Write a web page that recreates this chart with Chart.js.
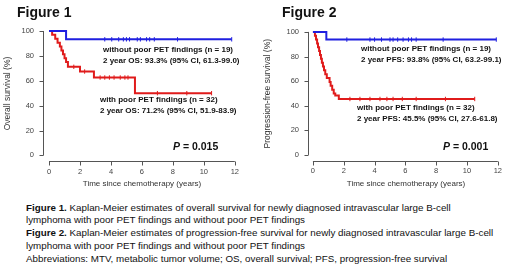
<!DOCTYPE html>
<html>
<head>
<meta charset="utf-8">
<script src="https://cdn.jsdelivr.net/npm/chart.js@4.4.1/dist/chart.umd.min.js"></script>
<style>
  body { margin: 0; width: 520px; height: 269px; background: #fff; position: relative; overflow: hidden;
         font-family: Arial, "Liberation Sans", sans-serif; color: #111; }
  .box { position: absolute; top: 0; width: 260px; height: 200px; }
  .t { position: absolute; white-space: nowrap; }
  .fig { font-weight: bold; font-size: 14px; line-height: 16px; }
  .ann { font-weight: bold; font-size: 8px; line-height: 11px; }
  .p { font-weight: bold; font-size: 10.5px; line-height: 12px; }
  #cap { position: absolute; left: 26px; top: 201.5px; font-size: 9.8px; line-height: 12.8px; white-space: nowrap; }
</style>
</head>
<body>
<div class="box" style="left:0"><canvas id="fig1" width="260" height="200"></canvas></div>
<div class="box" style="left:260px"><canvas id="fig2" width="260" height="200"></canvas></div>

<div class="t fig" style="left:17px;top:4px">Figure 1</div>
<div class="t ann" style="left:103px;top:44px">without poor PET findings (n = 19)<br>2 year OS: 93.3% (95% CI, 61.3-99.0)</div>
<div class="t ann" style="left:100px;top:94px">with poor PET findings (n = 32)<br>2 year OS: 71.2% (95% CI, 51.9-83.9)</div>
<div class="t p" style="left:173px;top:140px"><i>P</i> = 0.015</div>

<div class="t fig" style="left:282px;top:4px">Figure 2</div>
<div class="t ann" style="left:361px;top:43px">without poor PET findings (n = 19)<br>2 year PFS: 93.8% (95% CI, 63.2-99.1)</div>
<div class="t ann" style="left:357px;top:102px">with poor PET findings (n = 32)<br>2 year PFS: 45.5% (95% CI, 27.6-61.8)</div>
<div class="t p" style="left:443px;top:140px"><i>P</i> = 0.001</div>

<div id="cap"><b>Figure 1.</b> Kaplan-Meier estimates of overall survival for newly diagnosed intravascular large B-cell<br>lymphoma with poor PET findings and without poor PET findings<br><b>Figure 2.</b> Kaplan-Meier estimates of progression-free survival for newly diagnosed intravascular large B-cell<br>lymphoma with poor PET findings and without poor PET findings<br>Abbreviations: MTV, metabolic tumor volume; OS, overall survival; PFS, progression-free survival</div>

<script>
// tick labels
const xTicks = [0, 2, 4, 6, 8, 10, 12];
const yTicks = [0, 20, 40, 60, 80, 100];

// Figure 1: overall survival (step times in years, survival %)
const osPoorTimes = [0, 0.2, 0.4, 0.55, 0.7, 0.8, 0.9, 1.0, 1.1, 1.22, 2.0, 2.9, 5.55, 10.5];
const osPoorSurv  = [100, 96.9, 93.8, 90.6, 87.5, 84.4, 81.3, 78.1, 75.0, 71.2, 67.4, 62.6, 50.0, 50.0];
const osPoorCens  = [1.6, 2.3, 3.3, 3.6, 3.9, 4.2, 4.6, 4.9, 5.1, 7.0, 8.9, 10.5];
const osGoodTimes = [0, 1.1, 11.8];
const osGoodSurv  = [100, 93.3, 93.3];
const osGoodCens  = [3.6, 4.05, 4.5, 4.8, 5.0, 5.2, 5.7, 5.9, 6.3, 6.5, 6.8, 8.3, 11.8];

// Figure 2: progression-free survival
const pfsPoorTimes = [0, 0.13, 0.2, 0.27, 0.33, 0.4, 0.46, 0.52, 0.58, 0.65, 0.72, 0.8, 0.9, 1.08, 1.15, 1.25, 1.35, 1.45, 1.68, 10.5];
const pfsPoorSurv  = [100, 96.9, 93.8, 90.6, 87.5, 84.4, 81.3, 78.1, 75.0, 71.9, 68.8, 65.6, 62.5, 59.4, 56.3, 53.1, 50.0, 48.3, 45.5, 45.5];
const pfsPoorCens  = [2.4, 3.05, 3.7, 4.35, 4.8, 5.2, 5.8, 6.7, 8.6, 10.5];
const pfsGoodTimes = [0, 0.87, 11.9];
const pfsGoodSurv  = [100, 93.8, 93.8];
const pfsGoodCens  = [2.2, 3.7, 4.0, 4.45, 5.0, 5.2, 5.5, 5.85, 6.2, 6.4, 6.7, 8.45, 11.9];

const BLUE = '#1f1fe0';
const RED = '#e01b1b';

function kmAt(times, surv, t) {
    let s = surv[0];
    times.forEach((tt, i) => { if (tt <= t) s = surv[i]; });
    return s;
}

function curve(times, surv, color) {
    return {
        data: times.map((t, i) => ({ x: t, y: surv[i] })),
        showLine: true, stepped: 'before',
        borderColor: color, borderWidth: 2, pointRadius: 0
    };
}

// censor ticks: short vertical marks on the curve
function marks(cens, times, surv, color) {
    return {
        data: cens.map(t => ({ x: t, y: kmAt(times, surv, t) })),
        showLine: false, pointStyle: 'line', rotation: 90, pointRadius: 2.2,
        borderColor: color, borderWidth: 1
    };
}

// R style axes: line from first to last tick, ticks pointing out
const rAxes = {
    id: 'rAxes',
    afterDraw(chart) {
        const { ctx, chartArea, scales: { x, y } } = chart;
        ctx.save();
        ctx.strokeStyle = '#555';
        ctx.lineWidth = 1;
        ctx.beginPath();
        const yb = Math.round(chartArea.bottom) + 0.5;
        ctx.moveTo(x.getPixelForValue(xTicks[0]), yb);
        ctx.lineTo(x.getPixelForValue(xTicks[xTicks.length - 1]), yb);
        xTicks.forEach(v => {
            const px = Math.round(x.getPixelForValue(v)) + 0.5;
            ctx.moveTo(px, yb); ctx.lineTo(px, yb + 4);
        });
        const xl = Math.round(chartArea.left) + 0.5;
        ctx.moveTo(xl, y.getPixelForValue(yTicks[0]));
        ctx.lineTo(xl, y.getPixelForValue(yTicks[yTicks.length - 1]));
        yTicks.forEach(v => {
            const py = Math.round(y.getPixelForValue(v)) + 0.5;
            ctx.moveTo(xl, py); ctx.lineTo(xl - 4, py);
        });
        ctx.stroke();
        ctx.restore();
    }
};

function makeChart(id, datasets, yTitle, xMin, yAxisWidth, pad) {
    new Chart(document.getElementById(id), {
        type: 'scatter',
        data: { datasets },
        plugins: [rAxes],
        options: {
            responsive: false,
            animation: false,
            events: [],
            layout: { padding: pad },
            plugins: { legend: { display: false }, tooltip: { enabled: false } },
            scales: {
                x: {
                    type: 'linear', min: xMin, max: 12.4,
                    afterBuildTicks: s => { s.ticks = xTicks.map(v => ({ value: v })); },
                    afterFit: s => { s.height = 30; },
                    grid: { display: false, drawTicks: false },
                    border: { display: false },
                    ticks: { padding: 6, color: '#444', font: { size: 7.5, family: 'Arial, "Liberation Sans"' } },
                    title: { display: true, text: 'Time since chemotherapy (years)', color: '#333',
                             padding: { top: 0, bottom: 2 }, font: { size: 8, family: 'Arial, "Liberation Sans"' } }
                },
                y: {
                    min: -4.5, max: 104,
                    afterBuildTicks: s => { s.ticks = yTicks.map(v => ({ value: v })); },
                    afterFit: s => { s.width = yAxisWidth; },
                    grid: { display: false, drawTicks: false },
                    border: { display: false },
                    ticks: { padding: 9, color: '#444', font: { size: 7.5, family: 'Arial, "Liberation Sans"' } },
                    title: { display: true, text: yTitle, color: '#333',
                             padding: { top: 3, bottom: 0 }, font: { size: 8.5, family: 'Arial, "Liberation Sans"' } }
                }
            }
        }
    });
}

makeChart('fig1', [
    curve(osGoodTimes, osGoodSurv, BLUE),
    curve(osPoorTimes, osPoorSurv, RED),
    marks(osGoodCens, osGoodTimes, osGoodSurv, BLUE),
    marks(osPoorCens, osPoorTimes, osPoorSurv, RED)
], 'Overall survival (%)', -0.39, 43, { left: 0, right: 19, top: 26, bottom: 9 });

makeChart('fig2', [
    curve(pfsGoodTimes, pfsGoodSurv, BLUE),
    curve(pfsPoorTimes, pfsPoorSurv, RED),
    marks(pfsGoodCens, pfsGoodTimes, pfsGoodSurv, BLUE),
    marks(pfsPoorCens, pfsPoorTimes, pfsPoorSurv, RED)
], 'Progression-free survival (%)', -0.32, 48, { left: 0, right: 16, top: 27, bottom: 9.5 });
</script>
</body>
</html>
